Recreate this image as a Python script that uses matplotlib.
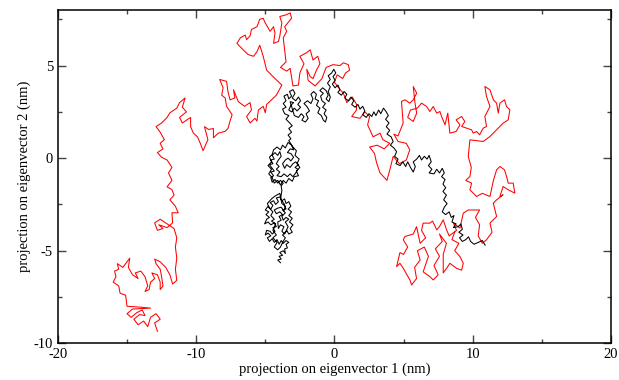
import numpy as np
import matplotlib
matplotlib.use("Agg")
import matplotlib.pyplot as plt
from matplotlib.ticker import MultipleLocator

# Trajectory projections (eigenvector 1, eigenvector 2) in nm
red_traj = [
    (-12.8,-9.35),(-13.0,-8.9),(-12.6,-8.7),(-12.9,-8.4),(-13.3,-8.6),(-13.5,-9.1),(-13.8,-8.8),(-14.2,-9.0),
    (-14.5,-8.7),(-14.1,-8.45),(-13.7,-8.5),(-13.9,-8.2),(-14.3,-8.35),(-14.7,-8.6),(-15.0,-8.4),(-14.6,-8.15),
    (-13.3,-8.1),(-14.0,-8.05),(-15.0,-8.0),(-15.1,-7.4),(-15.5,-7.3),(-15.6,-6.9),(-16.0,-6.7),(-15.8,-6.4),
    (-15.9,-6.1),(-15.6,-6.0),(-15.7,-5.7),(-15.3,-5.9),(-15.0,-5.6),(-14.8,-5.4),(-14.9,-5.9),(-14.6,-6.3),
    (-14.2,-6.5),(-14.4,-6.2),(-14.0,-6.1),(-13.7,-6.4),(-13.5,-6.9),(-13.7,-7.2),(-13.4,-7.1),(-13.3,-6.7),
    (-13.0,-6.5),(-13.2,-6.2),(-12.8,-6.3),(-12.6,-6.7),(-12.6,-7.1),(-12.4,-6.9),(-12.5,-6.4),(-12.6,-6.0),
    (-12.9,-5.7),(-13.0,-5.45),(-12.6,-5.6),(-12.2,-5.9),(-11.9,-6.3),(-11.7,-6.8),(-11.4,-6.6),(-11.5,-6.0),
    (-11.4,-5.4),(-11.5,-4.8),(-11.4,-4.3),(-11.6,-3.8),(-12.2,-3.5),(-12.6,-3.3),(-13.0,-3.5),(-12.8,-3.9),
    (-12.4,-3.8),(-12.7,-3.6),(-12.1,-3.75),(-11.7,-3.5),(-11.75,-2.95),(-11.3,-2.95),(-11.5,-2.6),(-11.9,-2.25),
    (-11.6,-2.0),(-11.75,-1.7),(-12.1,-1.55),(-11.75,-1.2),(-12.0,-0.8),(-11.75,-0.5),(-12.1,-0.1),(-12.5,0.05),
    (-12.8,0.3),(-12.4,0.5),(-12.6,0.8),(-12.3,1.0),(-12.6,1.4),(-12.9,1.7),(-12.5,1.9),(-12.1,2.2),
    (-11.9,2.45),(-11.4,2.7),(-11.2,3.0),(-10.8,3.25),(-11.0,2.75),(-10.7,2.5),(-11.2,2.2),(-11.0,1.9),
    (-10.4,2.2),(-10.4,1.7),(-10.2,1.35),(-9.9,1.15),(-9.7,0.8),(-9.5,0.4),(-9.15,1.0),(-9.4,1.7),
    (-9.1,1.55),(-8.75,1.6),(-8.75,1.1),(-8.4,1.35),(-7.9,1.45),(-7.7,1.6),(-7.55,2.0),(-7.4,2.35),
    (-7.8,2.8),(-7.9,3.25),(-8.15,3.4),(-8.05,3.8),(-8.3,4.25),(-7.8,4.15),(-7.7,3.6),(-7.55,3.15),
    (-7.2,3.25),(-7.3,3.7),(-6.95,3.05),(-6.5,2.8),(-6.1,3.0),(-6.0,2.6),(-6.35,2.25),(-6.1,1.9),
    (-5.75,2.15),(-5.6,2.0),(-5.5,2.6),(-5.15,2.8),(-5.0,2.45),(-4.9,2.9),(-4.55,3.15),(-4.2,3.4),
    (-3.8,3.95),(-4.3,4.3),(-4.9,4.75),(-5.15,5.5),(-5.4,6.1),(-5.6,5.75),(-5.85,5.5),(-6.25,5.6),
    (-6.6,5.85),(-7.05,6.2),(-6.8,6.5),(-6.45,6.65),(-6.35,6.4),(-6.1,6.6),(-6.0,6.95),(-5.6,7.1),
    (-5.4,7.5),(-5.15,7.55),(-5.0,7.3),(-4.65,6.85),(-4.4,7.1),(-4.3,6.75),(-4.4,6.2),(-4.05,6.3),
    (-3.95,6.6),(-3.8,7.3),(-3.95,7.65),(-3.45,7.75),(-3.2,7.85),(-3.1,7.55),(-3.6,7.1),(-3.45,6.85),
    (-3.7,6.5),(-3.6,5.85),(-3.5,5.2),(-3.9,4.9),(-3.45,4.7),(-3.2,4.85),(-3.0,3.9),(-2.6,3.95),
    (-2.5,4.6),(-2.2,5.1),(-2.5,5.5),(-2.0,5.7),(-1.75,5.85),(-1.55,5.3),(-1.2,5.5),(-1.05,5.1),
    (-1.3,4.75),(-1.55,4.3),(-1.75,4.4),(-2.0,4.8),(-1.9,4.2),(-1.4,3.9),(-0.9,4.3),(-0.6,4.9),
    (-0.1,5.05),(0.4,5.0),(0.65,5.15),(1.0,5.05),(1.1,4.75),(0.8,4.6),(0.6,4.3),(0.2,4.5),
    (0.0,4.1),(0.3,3.8),(0.65,3.5),(0.9,3.0),(1.3,3.3),(1.6,2.9),(1.6,2.6),(1.25,2.25),
    (1.85,2.15),(2.2,2.5),(2.55,2.25),(2.4,1.8),(2.8,1.15),(3.3,1.35),(3.5,1.0),(4.0,0.8),
    (3.6,0.5),(3.1,0.7),(2.55,0.6),(2.9,0.25),(3.05,-0.25),(3.3,-0.8),(3.8,-1.2),(4.0,-0.65),
    (4.25,0.1),(4.7,-0.3),(5.2,-0.1),(5.45,0.45),(5.2,0.8),(4.6,0.9),(4.3,1.3),(4.6,1.2),
    (4.97,1.89),(4.85,3.06),(5.1,3.15),(5.45,2.97),(5.7,3.15),(5.95,3.51),(5.7,3.87),(5.83,2.97),
    (5.95,2.43),(5.7,1.98),(5.3,2.2),(5.5,2.6),(6.0,2.7),(6.3,2.97),(6.67,2.79),(6.9,2.52),
    (7.15,2.79),(7.4,2.43),(7.63,2.52),(7.75,2.25),(8.0,1.8),(8.2,2.43),(8.35,1.35),(8.8,1.44),
    (9.08,1.8),(8.8,2.07),(9.2,2.25),(9.43,1.98),(9.2,1.71),(9.56,1.62),(9.92,1.53),(10.04,1.35),
    (10.28,1.44),(10.5,1.26),(10.76,1.62),(11.0,1.71),(10.88,2.25),(11.25,2.79),(11.0,3.33),(10.88,3.87),
    (11.25,3.69),(11.5,3.15),(11.73,2.97),(11.85,2.43),(11.97,2.97),(12.3,3.15),(12.45,2.79),(12.69,2.61),
    (12.57,2.07),(12.2,1.89),(11.73,1.53),(11.25,1.17),(10.76,0.9),(9.8,0.99),(9.68,0.09),(9.9,-0.5),
    (9.8,-0.99),(9.5,-1.2),(9.92,-1.35),(9.8,-1.71),(10.28,-2.07),(10.7,-1.9),(11.25,-2.07),(11.5,-1.2),
    (11.73,-0.63),(11.97,-0.45),(12.3,-0.63),(12.45,-0.99),(12.57,-1.35),(12.93,-1.35),(13.05,-1.89),(12.57,-1.71),
    (12.2,-1.53),(11.97,-2.07),(12.2,-1.98),(11.73,-2.25),(11.49,-2.43),(11.73,-3.15),(11.25,-3.51),(11.4,-4.0),
    (11.0,-4.41),(10.7,-4.6),(10.4,-4.2),(10.5,-3.6),(10.2,-3.2),(10.5,-2.8),(9.92,-2.8),(9.68,-2.8),
    (9.32,-2.97),(9.08,-3.78),(8.6,-3.5),(8.83,-3.9),(8.3,-4.2),(8.11,-3.87),(7.87,-3.33),(7.6,-3.7),
    (7.4,-3.87),(7.1,-3.4),(6.9,-3.51),(6.42,-3.51),(6.3,-3.9),(6.6,-4.3),(6.2,-4.6),(5.94,-3.7),
    (5.7,-4.1),(5.1,-4.23),(4.98,-4.41),(5.3,-4.8),(5.0,-5.2),(4.74,-5.1),(4.5,-5.86),(4.74,-5.68),
    (4.98,-5.95),(5.46,-6.58),(5.58,-6.85),(5.94,-6.5),(5.8,-5.9),(6.2,-5.5),(6.0,-5.0),(6.5,-4.8),
    (6.8,-5.3),(6.42,-6.14),(6.9,-6.4),(7.15,-6.58),(7.5,-6.3),(7.2,-5.8),(7.6,-5.3),(7.3,-4.9),
    (7.8,-4.5),(7.6,-4.1),(8.1,-4.6),(7.87,-5.2),(7.87,-6.2),(8.11,-5.95),(8.35,-5.68),(8.83,-5.95),
    (9.2,-6.05),(9.32,-5.68),(9.08,-5.32),(8.7,-5.0),(9.0,-4.6),(8.5,-4.4),(8.7,-4.0),
]

black_traj = [
    (-3.9,-5.65),(-4.1,-5.5),(-3.85,-5.45),(-4.0,-5.3),(-3.75,-5.25),(-3.95,-5.1),(-3.7,-5.0),(-3.55,-5.15),
    (-3.6,-4.9),(-3.4,-4.85),(-3.5,-4.65),(-3.3,-4.55),(-3.5,-4.45),(-3.7,-4.6),(-3.85,-4.45),(-4.0,-4.65),
    (-4.15,-4.4),(-4.35,-4.55),(-4.5,-4.35),(-4.7,-4.5),(-4.85,-4.3),(-4.6,-4.2),(-4.8,-4.05),(-5.0,-4.15),
    (-4.9,-3.9),(-4.65,-3.95),(-4.5,-4.1),(-4.3,-3.95),(-4.45,-3.75),(-4.2,-3.7),(-4.35,-3.5),(-4.6,-3.6),
    (-4.8,-3.45),(-5.05,-3.55),(-4.9,-3.3),(-4.7,-3.2),(-4.95,-3.05),(-4.75,-2.9),(-5.0,-2.8),(-4.8,-2.6),
    (-4.6,-2.75),(-4.45,-2.55),(-4.65,-2.4),(-4.4,-2.3),(-4.25,-2.5),(-4.05,-2.35),(-4.2,-2.15),(-3.95,-2.1),
    (-3.8,-2.3),(-3.6,-2.2),(-3.5,-2.45),(-3.3,-2.35),(-3.15,-2.6),(-3.35,-2.75),(-3.1,-2.9),(-3.3,-3.1),
    (-3.05,-3.25),(-3.25,-3.45),(-3.0,-3.6),(-3.2,-3.8),(-3.05,-4.0),(-3.3,-4.1),(-3.45,-3.9),(-3.6,-4.1),
    (-3.8,-3.95),(-3.65,-3.7),(-3.9,-3.6),(-4.05,-3.8),(-4.1,-3.45),(-3.85,-3.35),(-4.0,-3.15),(-3.75,-3.05),
    (-3.95,-2.9),(-4.2,-3.0),(-4.35,-2.8),(-4.1,-2.7),(-3.85,-2.65),(-3.65,-2.85),(-3.55,-2.6),(-3.8,-2.45),
    (-3.95,-1.9),(-4.3,-2.05),(-4.55,-2.2),(-4.85,-2.45),(-4.7,-2.7),(-4.45,-2.9),(-4.6,-3.1),(-4.35,-3.3),
    (-4.55,-3.4),(-4.25,-3.55),(-4.45,-3.9),(-4.2,-4.15),(-4.45,-4.3),(-4.15,-4.55),(-4.35,-4.8),(-4.1,-4.95),
    (-3.9,-4.8),(-3.75,-4.55),(-3.55,-4.3),(-3.75,-4.15),(-3.5,-3.95),(-3.35,-3.7),(-3.55,-3.45),(-3.3,-3.3),
    (-3.5,-3.2),(-3.7,-3.35),(-3.8,-3.15),(-3.55,-2.95),(-3.75,-2.8),(-3.5,-2.75),(-3.65,-2.45),(-3.9,-2.2),
    (-3.85,-2.0),(-3.8,-1.75),(-3.85,-1.5),(-3.7,-1.35),
    (-3.9,-1.2),(-4.1,-1.35),(-4.3,-1.15),(-4.5,-1.3),(-4.6,-1.05),(-4.4,-0.95),(-4.6,-0.75),(-4.35,-0.7),
    (-4.55,-0.5),(-4.7,-0.35),(-4.45,-0.3),(-4.6,-0.1),(-4.35,-0.05),(-4.5,0.15),(-4.3,0.3),(-4.1,0.15),
    (-3.95,0.35),(-3.85,0.1),(-4.05,-0.1),(-4.2,-0.3),(-4.0,-0.45),(-4.2,-0.6),(-3.95,-0.75),(-4.15,-0.95),
    (-3.85,-1.0),(-3.65,-0.85),(-3.4,-1.0),(-3.2,-0.85),(-3.0,-1.0),(-2.8,-0.8),(-2.65,-0.6),(-2.85,-0.5),
    (-2.6,-0.35),(-2.8,-0.2),(-3.0,-0.3),(-3.2,-0.5),(-3.45,-0.35),(-3.6,-0.55),(-3.75,-0.3),(-3.55,-0.1),
    (-3.35,0.0),(-3.15,-0.15),(-2.95,0.05),(-3.15,0.25),(-3.4,0.3),(-3.2,0.5),(-2.95,0.45),(-3.1,0.7),
    (-3.35,0.85),(-3.55,0.55),(-3.75,0.7),(-3.9,0.45),(-4.15,0.6),(-4.4,0.45),(-4.5,0.2),(-4.7,0.05),
    (-4.55,-0.2),(-4.8,-0.4),(-4.55,-0.6),(-4.75,-0.85),(-4.5,-1.05),(-4.35,-1.35),(-4.1,-1.2),(-3.9,-1.45),
    (-3.7,-1.2),(-3.5,-1.35),(-3.3,-1.1),(-3.05,-1.25),(-2.9,-1.0),(-2.6,-0.95),(-2.75,-0.7),(-2.5,-0.5),
    (-2.7,-0.3),(-2.55,-0.05),(-2.85,0.15),(-2.75,0.4),(-3.0,0.6),(-3.3,0.95),
    (-3.15,1.05),(-3.35,1.25),(-3.1,1.4),(-3.3,1.6),(-3.05,1.75),(-3.3,1.95),(-3.5,2.1),(-3.3,2.3),
    (-3.6,2.4),(-3.75,2.65),(-3.5,2.75),(-3.7,2.95),(-3.5,3.1),(-3.65,3.35),(-3.4,3.45),(-3.3,3.2),
    (-3.1,3.35),(-3.25,3.6),(-3.0,3.7),(-2.85,3.5),(-3.05,3.25),(-2.8,3.1),(-2.6,3.3),(-2.45,3.1),
    (-2.65,2.9),(-2.45,2.75),(-2.7,2.55),(-2.9,2.7),(-3.1,2.5),(-3.3,2.6),(-3.15,2.85),(-2.95,3.0),
    (-3.2,3.05),(-2.9,2.3),(-2.6,2.2),(-2.4,2.4),(-2.2,2.25),(-2.35,2.05),(-2.1,1.95),(-1.9,2.15),
    (-2.05,2.4),(-1.8,2.55),(-2.0,2.8),(-2.2,2.95),(-1.95,3.1),(-1.7,2.95),
    (-1.55,3.2),(-1.7,3.45),(-1.5,3.6),(-1.3,3.45),(-1.4,3.2),(-1.15,3.1),(-1.3,2.85),(-1.05,2.7),
    (-1.2,2.45),(-0.95,2.3),(-0.8,2.05),(-0.65,1.95),(-0.55,2.2),(-0.75,2.4),(-0.6,2.6),(-0.85,2.75),
    (-0.65,2.95),(-0.9,3.1),(-1.0,3.35),(-0.8,3.5),(-1.05,3.65),(-0.85,3.8),(-0.6,3.65),(-0.45,3.4),
    (-0.6,3.2),(-0.4,3.05),(-0.3,3.3),(-0.45,3.6),(-0.3,3.85),(-0.5,4.05),(-0.3,4.25),(-0.45,4.45),
    (-0.2,4.6),(-0.05,4.8),(0.1,4.6),(-0.1,4.4),(0.05,4.2),(-0.15,4.0),(0.05,3.8),(0.25,3.95),
    (0.4,3.7),(0.25,3.55),(0.5,3.4),(0.7,3.6),(0.9,3.45),(0.75,3.25),(1.0,3.1),(1.2,3.3),
    (1.4,3.1),(1.25,2.9),(1.5,2.75),(1.7,2.9),(1.85,2.65),(2.05,2.8),(2.2,2.55),(2.05,2.35),
    (2.3,2.2),(2.5,2.4),(2.7,2.25),(2.85,2.5),(3.0,2.3),(3.2,2.6),(3.35,2.4),(3.55,2.7),
    (3.75,2.5),(3.9,2.3),(3.7,2.1),(3.95,1.9),(3.75,1.7),(4.0,1.5),(3.8,1.3),(4.1,1.15),
    (4.25,0.9),(4.05,0.7),(4.3,0.55),(4.5,0.35),(4.35,0.1),(4.6,-0.05),(4.45,-0.3),(4.75,-0.4),
    (4.95,-0.2),(5.15,-0.45),(5.3,-0.2),(5.5,-0.5),(5.7,-0.75),(5.85,-0.45),(5.7,-0.2),(5.95,-0.05),
    (6.15,0.15),(6.3,-0.1),(6.5,0.1),(6.7,-0.05),(6.85,0.15),(7.0,-0.2),(6.8,-0.4),(7.05,-0.6),
    (6.85,-0.8),(7.2,-0.85),(7.4,-0.6),(7.6,-0.8),(7.8,-0.55),(7.95,-0.8),(7.75,-1.0),(8.0,-1.15),
    (7.85,-1.4),(8.05,-1.6),(7.85,-1.8),(8.1,-2.0),(7.9,-2.25),(8.15,-2.45),(7.95,-2.65),(7.8,-2.9),
    (8.05,-3.05),(8.3,-2.9),(8.45,-3.2),(8.65,-3.1),(8.5,-3.45),(8.8,-3.55),(8.6,-3.75),(8.95,-3.7),
    (9.15,-3.55),(9.25,-3.85),(9.0,-4.0),(9.3,-4.15),(9.05,-4.3),(9.25,-4.5),(9.5,-4.4),(9.7,-4.25),
    (9.85,-4.5),(10.1,-4.65),(10.4,-4.55),(10.7,-4.45),(10.9,-4.7),
]

x_ticks = [-20, -10, 0, 10, 20]
y_ticks = [-10, -5, 0, 5]
x_label = "projection on eigenvector 1 (nm)"
y_label = "projection on eigenvector 2 (nm)"

plt.rcParams['font.family'] = ['Liberation Serif', 'DejaVu Serif']
plt.rcParams['axes.unicode_minus'] = False

fig = plt.figure(figsize=(6.19, 3.80), dpi=100)
ax = fig.add_axes([0.0935, 0.0966, 0.8935, 0.877])

rx, ry = np.array(red_traj).T
bx, by = np.array(black_traj).T
ax.plot(rx, ry, color='#ff0000', lw=0.75)
ax.plot(bx, by, color='#000000', lw=0.75)

ax.set_xlim(-20, 20)
ax.set_ylim(-10, 8)
ax.set_xticks(x_ticks)
ax.set_yticks(y_ticks)
ax.xaxis.set_minor_locator(MultipleLocator(5))
ax.yaxis.set_minor_locator(MultipleLocator(2.5))
ax.tick_params(which='both', direction='in', top=True, right=True, labelsize=10.5,
               color='#444444', width=1.0)
ax.tick_params(which='major', length=6)
ax.tick_params(which='minor', length=3)
for s in ax.spines.values():
    s.set_linewidth(1.1)
ax.set_xlabel(x_label, fontsize=10.5, labelpad=1)
ax.set_ylabel(y_label, fontsize=10.5, labelpad=2)

fig.savefig("out.png", dpi=100)
